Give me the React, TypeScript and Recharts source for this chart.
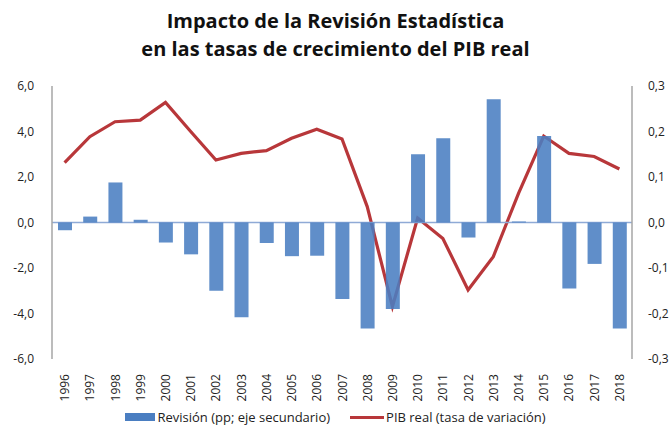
import React from "react";
import {
  ComposedChart,
  Bar,
  Line,
  XAxis,
  YAxis,
  ReferenceLine,
  Legend,
} from "recharts";

const years = [
  "1996", "1997", "1998", "1999", "2000", "2001", "2002", "2003", "2004", "2005", "2006", "2007",
  "2008", "2009", "2010", "2011", "2012", "2013", "2014", "2015", "2016", "2017", "2018",
];

const revision = [
  -0.017, 0.013, 0.088, 0.006, -0.044, -0.07, -0.15, -0.208, -0.045, -0.074, -0.073, -0.168,
  -0.233, -0.19, 0.15, 0.185, -0.033, 0.271, 0.002, 0.19, -0.145, -0.091, -0.233,
];

const pibReal = [
  2.63, 3.77, 4.43, 4.5, 5.28, 4.0, 2.75, 3.04, 3.16, 3.7, 4.1, 3.67,
  0.7, -3.7, 0.2, -0.7, -2.97, -1.5, 1.28, 3.8, 3.04, 2.9, 2.35,
];

const leftTicks = [-6, -4, -2, 0, 2, 4, 6];
const rightTicks = [-0.3, -0.2, -0.1, 0, 0.1, 0.2, 0.3];

const titleLines = [
  "Impacto de la Revisión Estadística",
  "en las tasas de crecimiento del PIB real",
];

const seriesNames = {
  revision: "Revisión (pp; eje secundario)",
  pib: "PIB real (tasa de variación)",
};

const data = years.map((y, i) => ({
  year: y,
  revision: revision[i],
  pib: pibReal[i],
}));

const BAR_COLOR = "#4A7EC1";
const LINE_COLOR = "#B8373A";
const FONT = "'Open Sans', 'DejaVu Sans', sans-serif";

const fmt = (v: number) => v.toFixed(1).replace(".", ",");

const YearTick = (props: any) => {
  const { x, y, payload } = props;
  return (
    <text
      x={x}
      y={y + 7}
      transform={`rotate(-90, ${x}, ${y + 7})`}
      textAnchor="end"
      dominantBaseline="central"
      fontSize={12}
      fontFamily={FONT}
      fill="#222"
    >
      {payload.value}
    </text>
  );
};

const LegendContent = () => (
  <div
    style={{
      display: "flex",
      justifyContent: "center",
      alignItems: "center",
      height: 26,
      fontFamily: FONT,
      fontSize: 13,
      color: "#222",
    }}
  >
    <span style={{ display: "inline-block", width: 30, height: 8, background: BAR_COLOR, marginRight: 2 }} />
    <span style={{ marginRight: 20 }}>{seriesNames.revision}</span>
    <span style={{ display: "inline-block", width: 34, height: 3, background: LINE_COLOR, marginRight: 2 }} />
    <span>{seriesNames.pib}</span>
  </div>
);

export default function App() {
  return (
    <div style={{ position: "absolute", left: 0, top: 0, width: 671, height: 435, background: "#fff" }}>
      <div
        style={{
          position: "absolute",
          left: 0,
          top: 7,
          width: 671,
          textAlign: "center",
          fontFamily: FONT,
          fontWeight: 700,
          fontSize: 20,
          lineHeight: "28px",
          color: "#111",
        }}
      >
        {titleLines.map((t) => (
          <div key={t}>{t}</div>
        ))}
      </div>
      <ComposedChart
        width={671}
        height={435}
        data={data}
        margin={{ top: 86, right: 0, left: 0, bottom: 5 }}
      >
        <XAxis
          dataKey="year"
          xAxisId={0}
          axisLine={false}
          tickLine={false}
          height={45}
          interval={0}
          tick={<YearTick />}
        />
        <YAxis
          yAxisId="left"
          orientation="left"
          domain={[-6, 6]}
          ticks={leftTicks}
          tickFormatter={fmt}
          width={52}
          axisLine={{ stroke: "#A6A6A6", strokeWidth: 1.5 }}
          tickLine={false}
          tick={{ fontSize: 12, fontFamily: FONT, fill: "#222" }}
          tickMargin={12}
        />
        <YAxis
          yAxisId="right"
          orientation="right"
          domain={[-0.3, 0.3]}
          ticks={rightTicks}
          tickFormatter={fmt}
          width={39}
          axisLine={{ stroke: "#A6A6A6", strokeWidth: 1.5 }}
          tickLine={false}
          tick={{ fontSize: 12, fontFamily: FONT, fill: "#222", textAnchor: "start" }}
          tickMargin={10}
        />
        <ReferenceLine yAxisId="right" y={0} stroke="#8FAAD6" strokeWidth={1.5} />
        <Line
          yAxisId="left"
          dataKey="pib"
          name={seriesNames.pib}
          stroke={LINE_COLOR}
          strokeWidth={3.2}
          dot={false}
          activeDot={false}
          isAnimationActive={false}
          zIndex={300}
        />
        <Bar
          yAxisId="right"
          dataKey="revision"
          name={seriesNames.revision}
          fill={BAR_COLOR}
          fillOpacity={0.88}
          barSize={14}
          isAnimationActive={false}
          zIndex={500}
        />
        <Legend verticalAlign="bottom" height={26} content={<LegendContent />} />
      </ComposedChart>
    </div>
  );
}
